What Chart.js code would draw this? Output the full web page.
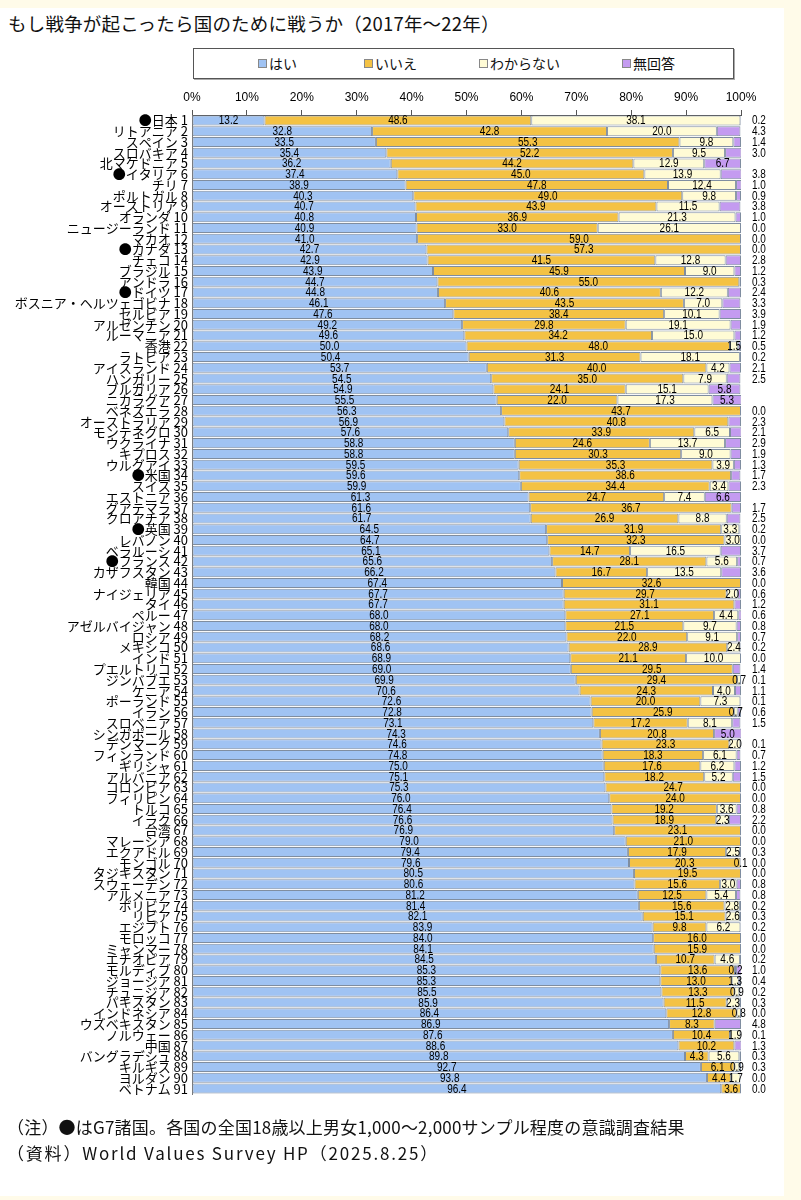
<!DOCTYPE html>
<html lang="ja">
<head>
<meta charset="utf-8">
<script src="https://cdn.jsdelivr.net/npm/chart.js@4.4.1/dist/chart.umd.min.js"></script>
<style>
  html, body { margin:0; padding:0; }
  body { width:801px; height:1200px; background:#fffbe9; position:relative; overflow:hidden;
         font-family:"Noto Sans CJK JP","Noto Sans",sans-serif; }
  #panel { position:absolute; left:0; top:8px; width:784px; height:1188px; background:#ffffff; }
  #title { position:absolute; left:8px; top:10px; font-size:18.5px; color:#111; white-space:nowrap; letter-spacing:0.2px; }
  #legend { position:absolute; left:193px; top:48px; width:539px; height:29px; border:1px solid #555;
            box-shadow:1px 1px 0 #aaa; background:#fff; }
  .li { position:absolute; top:6px; font-size:14px; color:#111; white-space:nowrap; line-height:16px; }
  .sw { display:inline-block; width:7px; height:7px; border:1px solid #888; margin-right:2px; vertical-align:1px; }
  #wrap { position:absolute; left:0; top:0; width:801px; height:1200px; }
  .note { position:absolute; left:7px; font-size:17px; color:#111; white-space:nowrap; }
</style>
</head>
<body>
<div id="panel"></div>
<div id="title">もし戦争が起こったら国のために戦うか（2017年～22年）</div>
<div id="legend"></div>
<div id="wrap"><canvas id="c" width="801" height="1200"></canvas></div>
<div class="note" style="top:1114px; letter-spacing:0.2px;">（注）●はG7諸国。各国の全国18歳以上男女1,000～2,000サンプル程度の意識調査結果</div>
<div class="note" style="top:1140px; letter-spacing:1.8px;">（資料）World Values Survey HP（2025.8.25）</div>
<script>
const countries = ['日本','リトアニア','スペイン','スロバキア','北マケドニア','イタリア','チリ','ポルトガル','オーストリア','オランダ',
 'ニュージーランド','マカオ','カナダ','チェコ','ブラジル','アンドラ','ドイツ','ボスニア・ヘルツェゴビナ','セルビア','アルゼンチン',
 'ルーマニア','香港','ラトビア','アイスランド','ハンガリー','ブルガリア','ニカラグア','ベネズエラ','オーストラリア','モンテネグロ',
 'ウクライナ','キプロス','ウルグアイ','米国','スイス','エストニア','グアテマラ','クロアチア','英国','レバノン',
 'ベラルーシ','フランス','カザフスタン','韓国','ナイジェリア','タイ','ペルー','アゼルバイジャン','ロシア','メキシコ',
 'インド','プエルトリコ','ジンバブエ','ケニア','ポーランド','イラン','スロベニア','シンガポール','デンマーク','フィンランド',
 'ギリシャ','アルバニア','コロンビア','フィリピン','トルコ','イラク','台湾','マレーシア','エクアドル','モンゴル',
 'タジキスタン','スウェーデン','アルメニア','ボリビア','リビア','エジプト','モロッコ','ミャンマー','エチオピア','モルディブ',
 'ジョージア','チュニジア','パキスタン','インドネシア','ウズベキスタン','ノルウェー','中国','バングラデシュ','キルギス','ヨルダン',
 'ベトナム'];
const g7 = ['日本','イタリア','カナダ','ドイツ','米国','英国','フランス'];
const seriesNames = ['はい','いいえ','わからない','無回答'];
const yes = [13.2,32.8,33.5,35.4,36.2,37.4,38.9,40.3,40.7,40.8,
 40.9,41.0,42.7,42.9,43.9,44.7,44.8,46.1,47.6,49.2,
 49.6,50.0,50.4,53.7,54.5,54.9,55.5,56.3,56.9,57.6,
 58.8,58.8,59.5,59.6,59.9,61.3,61.6,61.7,64.5,64.7,
 65.1,65.6,66.2,67.4,67.7,67.7,68.0,68.0,68.2,68.6,
 68.9,69.0,69.9,70.6,72.6,72.8,73.1,74.3,74.6,74.8,
 75.0,75.1,75.3,76.0,76.4,76.6,76.9,79.0,79.4,79.6,
 80.5,80.6,81.2,81.4,82.1,83.9,84.0,84.1,84.5,85.3,
 85.3,85.5,85.9,86.4,86.9,87.6,88.6,89.8,92.7,93.8,
 96.4];
const no = [48.6,42.8,55.3,52.2,44.2,45.0,47.8,49.0,43.9,36.9,
 33.0,59.0,57.3,41.5,45.9,55.0,40.6,43.5,38.4,29.8,
 34.2,48.0,31.3,40.0,35.0,24.1,22.0,43.7,40.8,33.9,
 24.6,30.3,35.3,38.6,34.4,24.7,36.7,26.9,31.9,32.3,
 14.7,28.1,16.7,32.6,29.7,31.1,27.1,21.5,22.0,28.9,
 21.1,29.5,29.4,24.3,20.0,25.9,17.2,20.8,23.3,18.3,
 17.6,18.2,24.7,24.0,19.2,18.9,23.1,21.0,17.9,20.3,
 19.5,15.6,12.5,15.6,15.1,9.8,16.0,15.9,10.7,13.6,
 13.0,13.3,11.5,12.8,8.3,10.4,10.2,4.3,6.1,4.4,
 3.6];
const dontKnow = [38.1,20.0,9.8,9.5,12.9,13.9,12.4,9.8,11.5,21.3,
 26.1,0,0,12.8,9.0,0,12.2,7.0,10.1,19.1,
 15.0,1.5,18.1,4.2,7.9,15.1,17.3,0,0,6.5,
 13.7,9.0,3.9,0,3.4,7.4,0,8.8,3.3,3.0,
 16.5,5.6,13.5,0,2.0,0,4.4,9.7,9.1,2.4,
 10.0,0,0.7,4.0,7.3,0.7,8.1,0,2.0,6.1,
 6.2,5.2,0,0,3.6,2.3,0,0,2.5,0.1,
 0,3.0,5.4,2.8,2.6,6.2,0,0,4.6,0.2,
 1.3,0.9,2.3,0.8,0,1.9,0,5.6,0.9,1.7,
 0];
const noAnswer = [0.2,4.3,1.4,3.0,6.7,3.8,1.0,0.9,3.8,1.0,
 0.0,0.0,0.0,2.8,1.2,0.3,2.4,3.3,3.9,1.9,
 1.2,0.5,0.2,2.1,2.5,5.8,5.3,0.0,2.3,2.1,
 2.9,1.9,1.3,1.7,2.3,6.6,1.7,2.5,0.2,0.0,
 3.7,0.7,3.6,0.0,0.6,1.2,0.6,0.8,0.7,0.2,
 0.0,1.4,0.1,1.1,0.1,0.6,1.5,5.0,0.1,0.7,
 1.2,1.5,0.0,0.0,0.8,2.2,0.0,0.0,0.3,0.0,
 0.0,0.8,0.8,0.2,0.3,0.2,0.0,0.0,0.2,1.0,
 0.4,0.2,0.3,0.0,4.8,0.1,1.3,0.3,0.3,0.0,
 0.0];
const colors = ['#a0c3f3','#f4c244','#fffbd5','#c49bf0'];
const borderCol = '#7f8da0';

const labels = countries.map((c, i) => (g7.includes(c) ? '●' : '') + c + ' ' + (i + 1));

// legend (HTML)
const legendPos = [64, 170, 285, 428];
const lg = document.getElementById('legend');
seriesNames.forEach((n, i) => {
  const d = document.createElement('div');
  d.className = 'li';
  d.style.left = legendPos[i] + 'px';
  d.innerHTML = '<span class="sw" style="background:' + colors[i] + '"></span>' + n;
  lg.appendChild(d);
});

const numFont = '"Liberation Sans","Arial",sans-serif';

function condensedText(ctx, txt, x, y, align) {
  ctx.save();
  ctx.translate(x, y);
  ctx.scale(0.8, 1);
  ctx.textAlign = align;
  ctx.fillText(txt, 0, 0);
  ctx.restore();
}

const valueLabels = {
  id: 'valueLabels',
  afterDatasetsDraw(chart) {
    const ctx = chart.ctx;
    const area = chart.chartArea;
    ctx.save();
    ctx.font = '12.5px ' + numFont;
    ctx.fillStyle = '#000';
    ctx.textBaseline = 'middle';
    chart.data.datasets.forEach((ds, di) => {
      const meta = chart.getDatasetMeta(di);
      meta.data.forEach((bar, i) => {
        const v = ds.data[i];
        const p = bar.getProps(['x', 'y', 'base'], true);
        const cx = (p.x + p.base) / 2;
        const txt = v.toFixed(1);
        if (di < 3) {
          if (v > 0) condensedText(ctx, txt, cx, p.y + 0.5, 'center');
        } else {
          if (v >= 5) condensedText(ctx, txt, cx, p.y + 0.5, 'center');
          else condensedText(ctx, txt, area.right + 11, p.y + 0.5, 'left');
        }
      });
    });
    ctx.restore();
  }
};

const dataSets = [yes, no, dontKnow, noAnswer].map((arr, i) => ({
  label: seriesNames[i],
  data: arr,
  backgroundColor: colors[i],
  borderColor: borderCol,
  borderWidth: 1,
  borderSkipped: false,
  barPercentage: 0.93,
  categoryPercentage: 1.0
}));

new Chart(document.getElementById('c'), {
  type: 'bar',
  data: { labels: labels, datasets: dataSets },
  plugins: [valueLabels],
  options: {
    indexAxis: 'y',
    responsive: false,
    animation: false,
    layout: { padding: { top: 84, bottom: 106, left: 0, right: 60 } },
    plugins: { legend: { display: false }, tooltip: { enabled: false } },
    scales: {
      x: {
        position: 'top',
        stacked: true,
        min: 0, max: 100,
        afterFit(s) { s.height = 31; },
        ticks: { stepSize: 10, padding: 5, color: '#000',
                 font: { family: numFont, size: 12 },
                 callback: v => v + '%' },
        grid: { drawOnChartArea: false, tickLength: 5, color: '#555' },
        border: { display: true, color: '#555' }
      },
      y: {
        stacked: true,
        afterFit(s) { s.width = 192; },
        ticks: { autoSkip: false, padding: 4, color: '#000',
                 font: { family: '"Noto Sans CJK JP",sans-serif', size: 13 } },
        grid: { display: false, drawTicks: false },
        border: { display: true, color: '#777' }
      }
    }
  }
});
</script>
</body>
</html>
